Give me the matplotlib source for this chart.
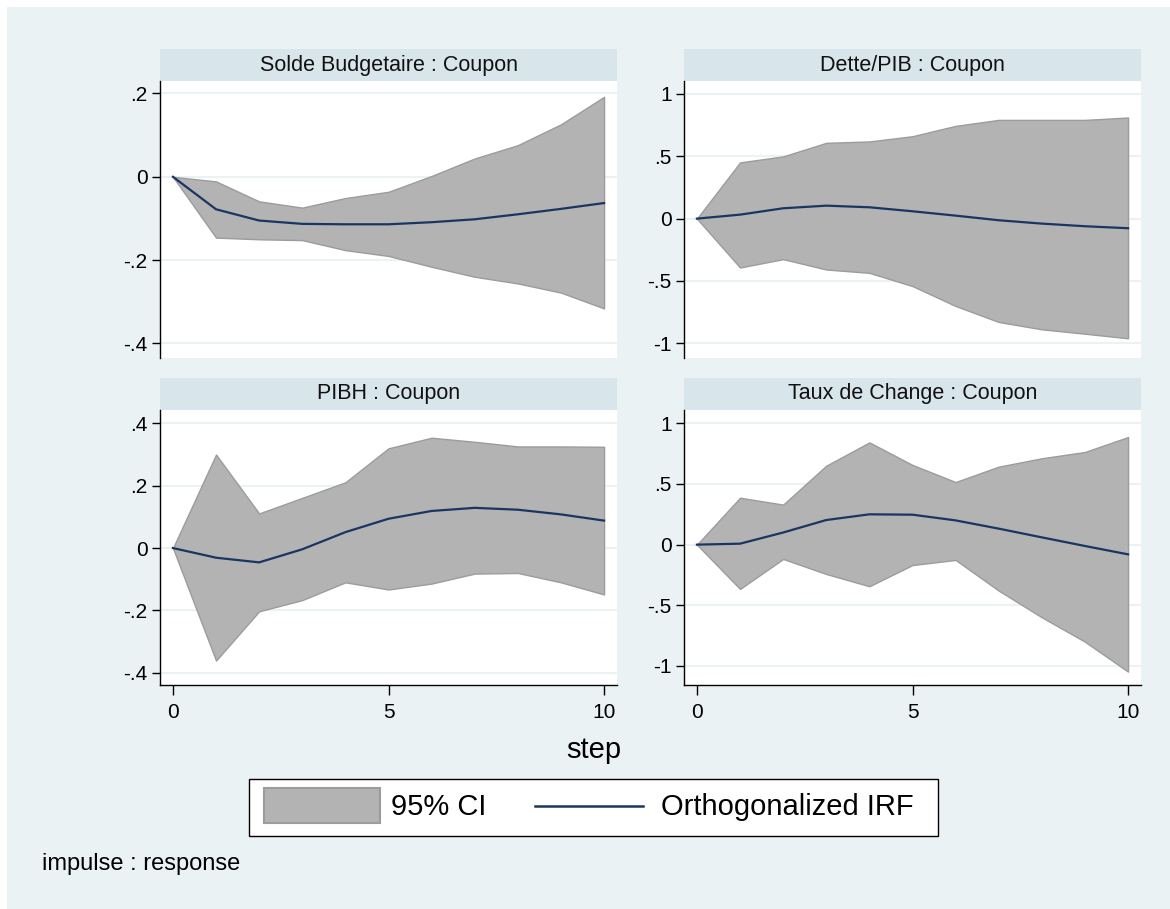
import numpy as np
import matplotlib
matplotlib.use("Agg")
import matplotlib.pyplot as plt
from matplotlib.patches import Rectangle
from matplotlib.lines import Line2D

plt.rcParams['font.family'] = ['Liberation Sans', 'DejaVu Sans']

# step axis
steps = list(range(11))

# Solde Budgetaire : Coupon
sb_irf = [0, -0.078, -0.105, -0.113, -0.114, -0.114, -0.109, -0.102, -0.090, -0.077, -0.063]
sb_upper = [0, -0.011, -0.059, -0.074, -0.051, -0.036, 0.002, 0.044, 0.076, 0.126, 0.192]
sb_lower = [0, -0.146, -0.150, -0.152, -0.176, -0.190, -0.216, -0.240, -0.256, -0.278, -0.316]

# Dette/PIB : Coupon
dp_irf = [0, 0.032, 0.083, 0.104, 0.091, 0.059, 0.024, -0.013, -0.040, -0.061, -0.077]
dp_upper = [0, 0.451, 0.499, 0.608, 0.619, 0.661, 0.744, 0.792, 0.792, 0.792, 0.811]
dp_lower = [0, -0.392, -0.325, -0.408, -0.435, -0.541, -0.701, -0.829, -0.888, -0.923, -0.960]

# PIBH : Coupon
pb_irf = [0, -0.031, -0.046, -0.004, 0.051, 0.094, 0.119, 0.129, 0.123, 0.108, 0.088]
pb_upper = [0, 0.300, 0.111, 0.161, 0.211, 0.320, 0.354, 0.341, 0.326, 0.326, 0.325]
pb_lower = [0, -0.361, -0.203, -0.167, -0.110, -0.133, -0.114, -0.082, -0.080, -0.110, -0.149]

# Taux de Change : Coupon
tc_irf = [0, 0.008, 0.100, 0.203, 0.250, 0.247, 0.200, 0.132, 0.060, -0.011, -0.080]
tc_upper = [0, 0.387, 0.330, 0.651, 0.843, 0.657, 0.516, 0.643, 0.712, 0.764, 0.887]
tc_lower = [0, -0.365, -0.118, -0.242, -0.343, -0.168, -0.126, -0.379, -0.599, -0.800, -1.047]

titles = ["Solde Budgetaire : Coupon", "Dette/PIB : Coupon",
          "PIBH : Coupon", "Taux de Change : Coupon"]
yticks = [[-0.4, -0.2, 0, 0.2], [-1, -0.5, 0, 0.5, 1],
          [-0.4, -0.2, 0, 0.2, 0.4], [-1, -0.5, 0, 0.5, 1]]
ylims = [(-0.435, 0.230), (-1.118, 1.104), (-0.4395, 0.443), (-1.157, 1.110)]
xticks = [0, 5, 10]

W, H = 1170, 909
BG = "#EAF2F3"
STRIP = "#D8E5EB"
BAND = "#B3B3B3"
BAND_EDGE = "#9C9C9C"
NAVY = "#1B3563"


def fy(y):
    return 1 - y / H


def fmt(v):
    if v == 0:
        return "0"
    if float(v).is_integer():
        return str(int(v))
    s = f"{v:g}"
    return s.replace("0.", ".")


fig = plt.figure(figsize=(W / 100, H / 100), dpi=100, facecolor="white")
fig.patches.append(Rectangle((7 / W, -0.01), 1.02, fy(7) + 0.01, transform=fig.transFigure,
                             facecolor=BG, edgecolor="none", zorder=-10))

# panel boxes in pixels: x0, x1, strip top, plot top, plot bottom
boxes = [(160, 617, 49, 81, 358), (684, 1141, 49, 81, 358),
         (160, 617, 378, 410, 685), (684, 1141, 378, 410, 685)]
data = [(sb_irf, sb_lower, sb_upper), (dp_irf, dp_lower, dp_upper),
        (pb_irf, pb_lower, pb_upper), (tc_irf, tc_lower, tc_upper)]

for i, ((x0, x1, st, pt, pbm), (irf, lo, hi)) in enumerate(zip(boxes, data)):
    ax = fig.add_axes([x0 / W, fy(pbm), (x1 - x0) / W, (pbm - pt) / H])
    ax.set_zorder(2)
    ax.set_facecolor("white")
    for yt in yticks[i]:
        ax.axhline(yt, color=BG, lw=1.5, zorder=1)
    ax.fill_between(steps, lo, hi, facecolor=BAND, edgecolor=BAND_EDGE, lw=1.0, zorder=2)
    ax.plot(steps, irf, color=NAVY, lw=1.6, zorder=3)
    ax.set_xlim(-0.30, 10.30)
    ax.set_ylim(*ylims[i])
    ax.set_yticks(yticks[i])
    ax.set_yticklabels([fmt(v) for v in yticks[i]], fontsize=15)
    for s in ["top", "right"]:
        ax.spines[s].set_visible(False)
    ax.spines["left"].set_linewidth(1.0)
    ax.tick_params(axis="y", direction="out", length=6, width=1.0, pad=3)
    if i >= 2:
        ax.set_xticks(xticks)
        ax.set_xticklabels([str(v) for v in xticks], fontsize=15)
        ax.tick_params(axis="x", direction="out", length=7, width=1.0, pad=6)
        ax.spines["bottom"].set_linewidth(1.0)
    else:
        ax.spines["bottom"].set_visible(False)
        ax.set_xticks([])

    # strip title
    fig.patches.append(Rectangle((x0 / W, fy(pt)), (x1 - x0) / W, (pt - st) / H,
                                 transform=fig.transFigure, facecolor=STRIP,
                                 edgecolor="none", zorder=1))
    fig.text((x0 + x1) / 2 / W, fy((st + pt) / 2), titles[i], ha="center", va="center",
             fontsize=15.5, color="#111111")

fig.text(594 / W, fy(750), "step", ha="center", va="center", fontsize=21)

# legend
fig.patches.append(Rectangle((249 / W, fy(836)), (938 - 249) / W, (836 - 779) / H,
                             transform=fig.transFigure, facecolor="white",
                             edgecolor="black", lw=1.0, zorder=2))
fig.patches.append(Rectangle((264 / W, fy(823)), (380 - 264) / W, (823 - 788) / H,
                             transform=fig.transFigure, facecolor=BAND,
                             edgecolor=BAND_EDGE, lw=1.5, zorder=3))
fig.lines.append(Line2D([535 / W, 643 / W], [fy(806), fy(806)], transform=fig.transFigure,
                        color=NAVY, lw=1.8, zorder=3))
fig.text(391 / W, fy(807), "95% CI", ha="left", va="center", fontsize=21)
fig.text(661 / W, fy(807), "Orthogonalized IRF", ha="left", va="center", fontsize=21)

fig.text(42 / W, fy(864), "impulse : response", ha="left", va="center", fontsize=17)

fig.savefig("out.png", dpi=100, facecolor=fig.get_facecolor())
